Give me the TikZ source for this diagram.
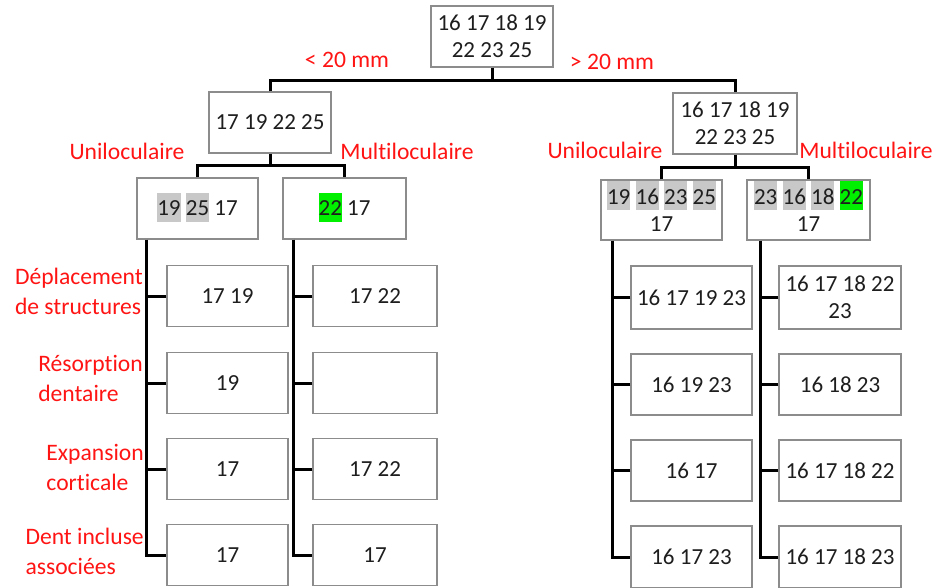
\documentclass[tikz,border=0pt]{standalone}
\usepackage{fontspec}
\setmainfont[Ligatures=NoCommon]{Carlito}
\definecolor{boxgray}{RGB}{140,140,140}
\definecolor{hlg}{RGB}{200,200,200}
\definecolor{hlgreen}{RGB}{0,240,0}
\definecolor{lblred}{RGB}{255,20,20}
\definecolor{txt}{RGB}{30,30,30}
\newcommand\hlbox[2]{\smash{\setlength\fboxsep{0pt}\colorbox{#1}{\rule[-6pt]{0pt}{29pt}#2}}\vphantom{#2}}
\begin{document}
\begin{tikzpicture}[x=1pt,y=-1pt,
  box/.style={draw=boxgray,line width=1.2pt,fill=white,inner sep=0pt,align=center,text=txt,
    font=\fontsize{23}{27}\selectfont},
  lbl/.style={text=lblred,inner sep=0pt,align=left,font=\fontsize{23.6}{30}\selectfont},
  conn/.style={line width=3pt,black,line join=miter}]
\useasboundingbox (0,0) rectangle (942,588);

% top level
\node[box,minimum width=122pt,minimum height=61pt] (root) at (492,36.5) {16 17 18 19\\22 23 25};
\node[box,minimum width=122pt,minimum height=61pt] (L1) at (270,122.5) {17 19 22 25};
\node[box,minimum width=124pt,minimum height=61pt] (R1) at (735,123.5) {16 17 18 19\\22 23 25};

% second level
\node[box,minimum width=121pt,minimum height=61pt] (LU) at (197.5,208.5) {\hlbox{hlg}{19} \hlbox{hlg}{25} 17};
\node[box,minimum width=123pt,minimum height=61pt] (LM) at (344.5,208.5) {\hlbox{hlgreen}{22} 17};
\node[box,minimum width=121pt,minimum height=60pt] (RU) at (661.5,210) {\hlbox{hlg}{19} \hlbox{hlg}{16} \hlbox{hlg}{23} \hlbox{hlg}{25}\\17};
\node[box,minimum width=123pt,minimum height=60pt] (RM) at (808.5,210) {\hlbox{hlg}{23} \hlbox{hlg}{16} \hlbox{hlg}{18} \hlbox{hlgreen}{22}\\17};

% bottom grids
\node[box,minimum width=121pt,minimum height=61pt] (A1) at (227.5,296) {17 19};
\node[box,minimum width=121pt,minimum height=61pt] (A2) at (227.5,383) {19};
\node[box,minimum width=121pt,minimum height=61pt] (A3) at (227.5,469) {17};
\node[box,minimum width=121pt,minimum height=61pt] (A4) at (227.5,555) {17};

\node[box,minimum width=124pt,minimum height=61pt] (B1) at (375,296) {17 22};
\node[box,minimum width=124pt,minimum height=61pt] (B2) at (375,383) {};
\node[box,minimum width=124pt,minimum height=61pt] (B3) at (375,469) {17 22};
\node[box,minimum width=124pt,minimum height=61pt] (B4) at (375,555) {17};

\node[box,minimum width=121pt,minimum height=63pt] (C1) at (691.5,297.5) {16 17 19 23};
\node[box,minimum width=121pt,minimum height=61pt] (C2) at (691.5,384.5) {16 19 23};
\node[box,minimum width=121pt,minimum height=61pt] (C3) at (691.5,470.5) {16 17};
\node[box,minimum width=121pt,minimum height=62pt] (C4) at (691.5,557) {16 17 23};

\node[box,minimum width=122pt,minimum height=63pt] (D1) at (840,297.5) {16 17 18 22\\23};
\node[box,minimum width=122pt,minimum height=61pt] (D2) at (840,384.5) {16 18 23};
\node[box,minimum width=122pt,minimum height=61pt] (D3) at (840,470.5) {16 17 18 22};
\node[box,minimum width=122pt,minimum height=62pt] (D4) at (840,557) {16 17 18 23};

% connectors top
\coordinate (j0) at ([yshift=-13pt]root.south);
\draw[conn] (root.south) -- (j0);
\draw[conn] (L1.north) |- (j0) -| (R1.north);
\coordinate (j1) at ([yshift=-12pt]L1.south);
\draw[conn] (L1.south) -- (j1);
\draw[conn] (LU.north) |- (j1) -| (LM.north);
\coordinate (j2) at ([yshift=-13pt]R1.south);
\draw[conn] (R1.south) -- (j2);
\draw[conn] (RU.north) |- (j2) -| (RM.north);

% trunks
\draw[conn] ([xshift=10pt]LU.south west) |- (A4.west);
\foreach \n in {A1,A2,A3} \draw[conn] (\n.west) -- ++(-20,0);
\draw[conn] ([xshift=11pt]LM.south west) |- (B4.west);
\foreach \n in {B1,B2,B3} \draw[conn] (\n.west) -- ++(-19,0);
\draw[conn] ([xshift=12pt]RU.south west) |- (C4.west);
\foreach \n in {C1,C2,C3} \draw[conn] (\n.west) -- ++(-18,0);
\draw[conn] ([xshift=14pt]RM.south west) |- (D4.west);
\foreach \n in {D1,D2,D3} \draw[conn] (\n.west) -- ++(-18,0);

% labels
\node[lbl] (lt) at (347,60) {< 20 mm};
\node[lbl] (gt) at (612,62) {> 20 mm};
\node[lbl] (lu) at (127,151) {Uniloculaire};
\node[lbl] (lm) at (407,151) {Multiloculaire};
\node[lbl] (ru) at (605,150) {Uniloculaire};
\node[lbl] (rm) at (866,150) {Multiloculaire};

\node[lbl,anchor=east] (r1) at (143,291) {Déplacement\\de structures};
\node[lbl,anchor=east] (r2) at (143,378) {Résorption\\dentaire};
\node[lbl,anchor=east] (r3) at (144,467) {Expansion\\corticale};
\node[lbl,anchor=east] (r4) at (144,551) {Dent incluse\\associées};
\end{tikzpicture}
\end{document}
